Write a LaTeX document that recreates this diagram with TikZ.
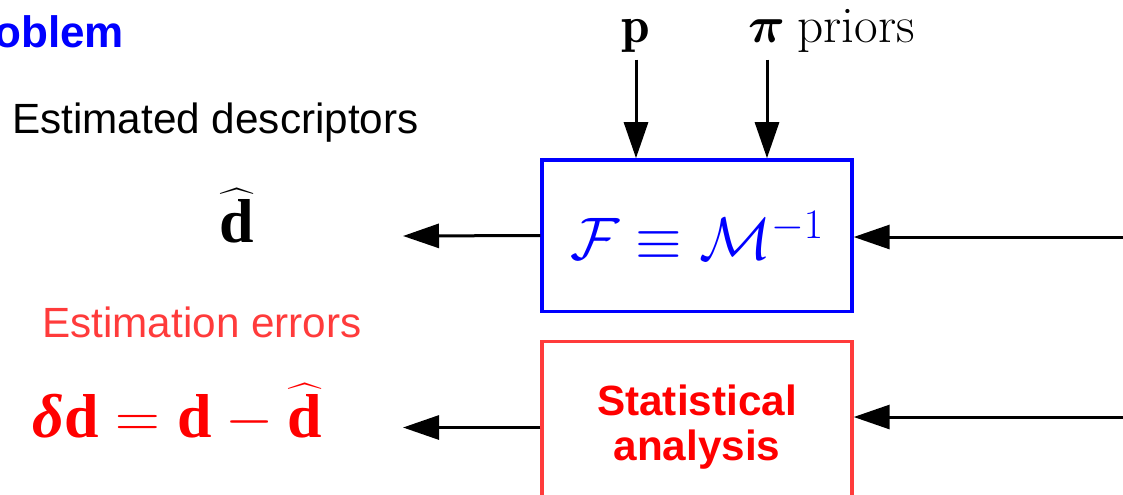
\RequirePackage{fix-cm}
\documentclass[tikz,border=0pt]{standalone}
\usepackage{amsmath}
\usepackage{fontspec}
\setsansfont{Liberation Sans}
\newfontfamily\eqfont{Liberation Serif}
\usetikzlibrary{arrows.meta}
\definecolor{invblue}{HTML}{0000FF}
\definecolor{errred}{HTML}{FF0000}
\definecolor{errlight}{HTML}{FF3B3B}

\begin{document}
\begin{tikzpicture}[x=0.75pt,y=-0.75pt,
 txt/.style={font=\fontsize{31.7}{38}\selectfont\sffamily,inner sep=0pt,anchor=base west},
 mth/.style={font=\fontsize{38.5}{46}\selectfont,inner sep=0pt},
 eqn/.style={font=\fontsize{46.5}{56}\selectfont\eqfont,inner sep=0pt},
 inp/.style={mth,anchor=base,text depth=0.25em},
 blk/.style={rectangle,line width=2.5pt,minimum width=232.5pt,align=center},
 arr/.style={line width=2.25pt,-{Triangle[length=27pt,width=18pt]}}]
\useasboundingbox (0,0) rectangle (1123,494);
\node[txt,font=\fontsize{33}{40}\selectfont\sffamily\bfseries,text=invblue] (title) at (-6,47) {oblem};
\node[inp] (p) at (636,42) {$\mathbf p$};
\node[inp] (pi) at (767,42) {$\boldsymbol\pi$};
\node[mth,anchor=base west] (priors) at (797,42) {priors};
\node[txt] (estlbl) at (12,133) {Estimated descriptors};
\node[eqn,anchor=base] (dhat) at (237,242) {$\widehat{\text{\bfseries d}}$};
\node[txt,text=errlight] (errlbl) at (42,337) {Estimation errors};
\node[eqn,anchor=base west,text=errred] (err) at (32,437) {$\text{\bfseries\itshape δ}\text{\bfseries d}=\text{\bfseries d}-\widehat{\text{\bfseries d}}$};
\node[blk,draw=invblue,minimum height=113.5pt,mth,font=\fontsize{45}{54}\selectfont,text=invblue] (fmap) at (697,235.5) {$\mathcal F\equiv\mathcal M^{-1}$};
\node[blk,draw=errlight,minimum height=129pt,font=\fontsize{31.7}{33.75}\selectfont\sffamily\bfseries,text=errred] (stat) at (697,427.5) {Statistical\\analysis};
\coordinate (fin) at (1130,237);
\coordinate (sin) at (1130,417);
\coordinate (dout) at (403,236);
\coordinate (eout) at (403,425);
\draw[arr,shorten <=10.5pt] (p.south) -- (p.south |- fmap.north);
\draw[arr,shorten <=10.5pt] (pi.south) -- (pi.south |- fmap.north);
\draw[arr] (fin) -- (fin -| fmap.east);
\draw[arr] (sin) -- (sin -| stat.east);
\draw[arr] (fmap.west) -- (dout);
\draw[arr] (stat.west) -- (stat.west -| eout);
\end{tikzpicture}
\end{document}
